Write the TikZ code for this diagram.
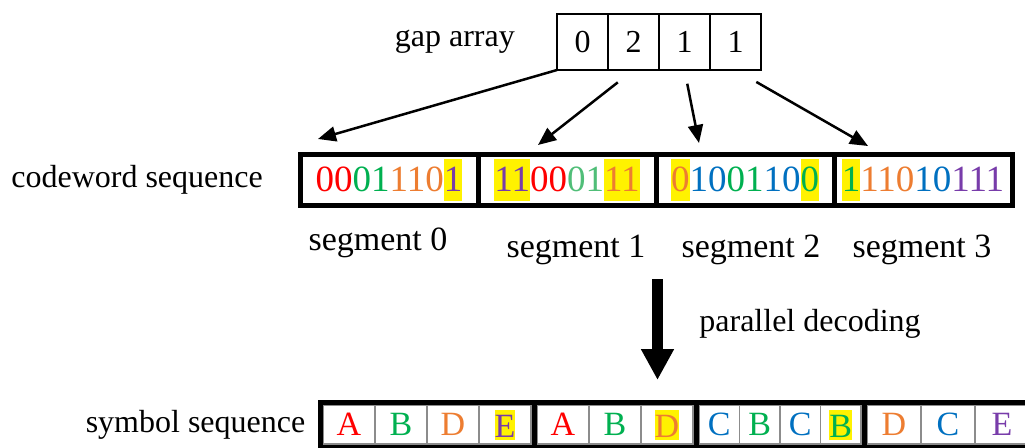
\documentclass[tikz,border=0pt]{standalone}
\usepackage{fontspec}
\setmainfont{Liberation Serif}
\usetikzlibrary{arrows.meta,positioning,fit}
\definecolor{cwred}{RGB}{255,0,0}
\definecolor{cwgreen}{RGB}{0,176,80}
\definecolor{cwlgreen}{RGB}{80,190,120}
\definecolor{cworange}{RGB}{237,125,49}
\definecolor{cwpurple}{RGB}{120,60,170}
\definecolor{cwblue}{RGB}{0,112,192}
\setlength{\fboxsep}{0pt}
\newcommand{\bit}[2]{\textcolor{#1}{#2}}
\newcommand{\hbit}[2]{\colorbox{yellow}{\rule[-10pt]{0pt}{42pt}\textcolor{#1}{#2}}}
\newcommand{\hsym}[2]{\colorbox{yellow}{\rule[-2pt]{0pt}{30pt}\textcolor{#1}{#2}}}
\tikzset{>/.tip={Triangle[length=18pt,width=15pt]}}

\begin{document}
\begin{tikzpicture}[x=1pt,y=-1pt,
  lab/.style={font=\fontsize{32}{36}\selectfont,inner sep=0pt},
  seglab/.style={font=\fontsize{34}{38}\selectfont,inner sep=0pt},
  gapcell/.style={draw,line width=2pt,minimum width=51pt,minimum height=56pt,
    outer sep=0pt,font=\fontsize{32}{36}\selectfont},
  segbox/.style={draw,line width=5pt,minimum width=178pt,minimum height=51.5pt,
    outer sep=0pt,inner sep=0pt,font=\fontsize{37}{40}\selectfont},
  sym/.style={draw=black!45,line width=1.5pt,minimum height=39pt,inner sep=0pt,
    outer sep=0pt,font=\fontsize{34}{38}\selectfont},
  grp/.style={draw,line width=5pt,inner sep=3pt},
  ptr/.style={->,line width=2.5pt}]
  \useasboundingbox (0,0) rectangle (1025,447);

  % gap array
  \node(gap0)[gapcell] at (582.5,42){0};
  \node(gap1)[gapcell,right=0pt of gap0]{2};
  \node(gap2)[gapcell,right=0pt of gap1]{1};
  \node(gap3)[gapcell,right=0pt of gap2]{1};
  \node(gaplab)[lab,left=42pt of gap0]{gap array};

  % codeword segments
  \node(seg0)[segbox] at (389,180)
    {\bit{cwred}{00}\bit{cwgreen}{01}\bit{cworange}{110}\hbit{cwpurple}{1}};
  \node(seg1)[segbox,right=0pt of seg0]
    {\hbit{cwpurple}{11}\bit{cwred}{00}\bit{cwlgreen}{01}\hbit{cworange}{11}};
  \node(seg2)[segbox,right=0pt of seg1]
    {\hbit{cworange}{0}\bit{cwblue}{10}\bit{cwgreen}{01}\bit{cwblue}{10}\hbit{cwgreen}{0}};
  \node(seg3)[segbox,right=0pt of seg2]
    {\hbit{cwgreen}{1}\bit{cworange}{110}\bit{cwblue}{10}\bit{cwpurple}{111}};
  \node(cwlab)[lab,left=37pt of seg0]{codeword sequence};

  \node(sl0)[seglab] at (378,243){segment 0};
  \node(sl1)[seglab] at (576,250){segment 1};
  \node(sl2)[seglab] at (751,250){segment 2};
  \node(sl3)[seglab] at (922,250){segment 3};

  % gap pointers
  \coordinate(t0) at (318,139);
  \coordinate(t1) at (538,145);
  \coordinate(t2) at (699,143);
  \coordinate(t3) at (868,146);
  \draw[ptr] (gap0.south west) -- (t0);
  \draw[ptr,shorten <=20pt] (gap1.south) -- (t1);
  \draw[ptr,shorten <=14pt] (gap2.south) -- (t2);
  \draw[ptr,shorten <=24pt] (gap3.south) -- (t3);

  % decoding step
  \coordinate(d0) at (657.5,279);
  \coordinate(d1) at (657.5,380);
  \draw[line width=11pt,-{Triangle[length=31pt,width=31pt]}] (d0) -- (d1);
  \node(pd)[lab] at (810,324){parallel decoding};

  % symbol sequence
  \node(s1)[sym,minimum width=52pt] at (349,424.5){\textcolor{cwred}{A}};
  \node(s2)[sym,minimum width=52pt,right=0pt of s1]{\textcolor{cwgreen}{B}};
  \node(s3)[sym,minimum width=52pt,right=0pt of s2]{\textcolor{cworange}{D}};
  \node(s4)[sym,minimum width=52pt,right=0pt of s3]{\hsym{cwpurple}{E}};
  \node(s5)[sym,minimum width=52pt,right=6pt of s4]{\textcolor{cwred}{A}};
  \node(s6)[sym,minimum width=52pt,right=0pt of s5]{\textcolor{cwgreen}{B}};
  \node(s7)[sym,minimum width=52pt,right=0pt of s6]{\hsym{cworange}{D}};
  \node(s8)[sym,minimum width=40.5pt,right=6pt of s7]{\textcolor{cwblue}{C}};
  \node(s9)[sym,minimum width=40.5pt,right=0pt of s8]{\textcolor{cwgreen}{B}};
  \node(s10)[sym,minimum width=40.5pt,right=0pt of s9]{\textcolor{cwblue}{C}};
  \node(s11)[sym,minimum width=40.5pt,right=0pt of s10]{\hsym{cwgreen}{B}};
  \node(s12)[sym,minimum width=54pt,right=6pt of s11]{\textcolor{cworange}{D}};
  \node(s13)[sym,minimum width=54pt,right=0pt of s12]{\textcolor{cwblue}{C}};
  \node(s14)[sym,minimum width=54pt,right=0pt of s13]{\textcolor{cwpurple}{E}};
  \node(g1)[grp,fit=(s1)(s4)]{};
  \node(g2)[grp,fit=(s5)(s7)]{};
  \node(g3)[grp,fit=(s8)(s11)]{};
  \node(g4)[grp,fit=(s12)(s14)]{};
  \node(symlab)[lab,left=12pt of g1]{symbol sequence};
\end{tikzpicture}
\end{document}
